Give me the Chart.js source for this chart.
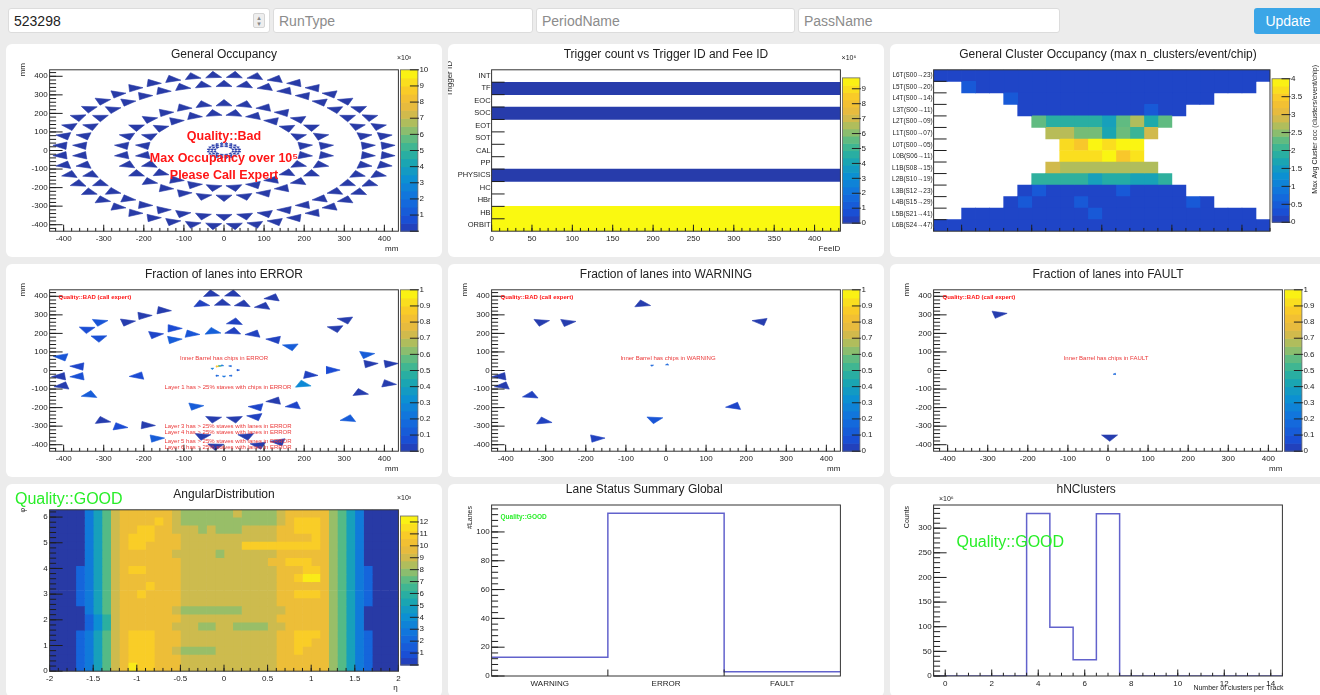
<!DOCTYPE html>
<html lang="en">
<head>
<meta charset="utf-8">
<title>ITS QC overview</title>
<script src="https://cdn.jsdelivr.net/npm/chart.js@4/dist/chart.umd.min.js"></script>
<style>
html, body { margin: 0; padding: 0; }
body { width: 1320px; height: 695px; overflow: hidden; background: #ececec; position: relative; font-family: "Liberation Sans", Arial, sans-serif; }
.field { position: absolute; top: 8px; height: 25px; box-sizing: border-box; border: 1px solid #dcdcdc; border-radius: 3px; background: #fff; font: 14px "Liberation Sans", Arial, sans-serif; color: #222; padding: 0 0 0 5px; outline: none; }
.field::placeholder { color: #8c8c8c; }
.spin { position: absolute; left: 253px; top: 13px; width: 12px; height: 15px; box-sizing: border-box; background: #eeeeee; border: 1px solid #d4d4d4; border-radius: 2px; color: #888; font: 7px "DejaVu Sans", sans-serif; line-height: 6px; text-align: center; padding-top: 1px; }
#update { position: absolute; left: 1254px; top: 8px; width: 68px; height: 26px; border: 0; border-radius: 3px; background: #3ba6e7; color: #fff; font: 14px "Liberation Sans", Arial, sans-serif; padding: 0; }
.pad { position: absolute; width: 436px; height: 213px; background: #fff; border-radius: 6px; overflow: hidden; }
.pad canvas { display: block; }
</style>
</head>
<body>
<input class="field" style="left:8px;width:262px" value="523298">
<div class="spin">▴<br>▾</div>
<input class="field" style="left:273px;width:260px" placeholder="RunType">
<input class="field" style="left:536px;width:259px" placeholder="PeriodName">
<input class="field" style="left:798px;width:262px" placeholder="PassName">
<button id="update">Update</button>

<div class="pad" style="left:6px;top:44px"><canvas id="occupancy" width="436" height="213"></canvas></div>
<div class="pad" style="left:448px;top:44px"><canvas id="trigger" width="436" height="213"></canvas></div>
<div class="pad" style="left:890px;top:44px"><canvas id="clusterOcc" width="436" height="213"></canvas></div>
<div class="pad" style="left:6px;top:264px"><canvas id="laneError" width="436" height="213"></canvas></div>
<div class="pad" style="left:448px;top:264px"><canvas id="laneWarning" width="436" height="213"></canvas></div>
<div class="pad" style="left:890px;top:264px"><canvas id="laneFault" width="436" height="213"></canvas></div>
<div class="pad" style="left:6px;top:484px"><canvas id="angular" width="436" height="213"></canvas></div>
<div class="pad" style="left:448px;top:484px"><canvas id="laneSummary" width="436" height="213"></canvas></div>
<div class="pad" style="left:890px;top:484px"><canvas id="nClusters" width="436" height="213"></canvas></div>

<script>
// ---------------- data ----------------

// ITS barrel layers L0..L6: radius (mm), staves per layer, phi of first stave (deg)
const layerRadius = [23, 31, 39, 200, 252, 356, 405];
const layerStaves = [12, 16, 20, 24, 30, 42, 48];
const layerPhi0 = [15, 11.25, 9, 7.5, 6, 4.29, 3.75];
// General Occupancy per layer (x10^3)
const layerOccupancy = [0.05, 0.05, 0.05, 0.02, 0.02, 0.02, 0.02];

// Fraction of lanes into ERROR: stave centres (mm) and fraction
const errorX = [-32, 22, 122, -57, -4, 47, 98, -154, -202, -243, -311, 304, 27, 279, -342, -127, -173, -83, -29, 23,
  75, -312, -127, 127, 167, -404, 354, -362, 362, 412, 267, -408, -362, -214, 212, 196, -402, 408, -335, 339,
  -73, 83, 127, 175, -27, 27, 79, -304, -262, -194, 311, -171, -54, 56, 137, -21, 87];
const errorY = [412, 412, 392, 358, 363, 358, 346, 324, 295, 261, 261, 273, 261, 227, 222, 227, 193, 197, 210, 210,
  197, 175, 166, 166, 129, 73, 86, 22, 36, 36, 2, -32, -32, -29, -24, -75, -83, -71, -131, -120,
  -193, -197, -164, -190, -261, -261, -249, -270, -303, -295, -261, -366, -354, -354, -385, -408, -402];
const errorFrac = [0.01, 0.01, 0.01, 0.03, 0.01, 0.01, 0.01, 0.01, 0.01, 0.01, 0.1, 0.01, 0.03, 0.01, 0.07, 0.06, 0.04, 0.1, 0.14, 0.03,
  0.03, 0.08, 0.13, 0.03, 0.13, 0.1, 0.13, 0.04, 0.01, 0.01, 0.06, 0.01, 0.08, 0.06, 0.03, 0.3, 0.01, 0.01, 0.13, 0.01,
  0.13, 0.04, 0.01, 0.04, 0.01, 0.01, 0.03, 0.01, 0.06, 0.01, 0.13, 0.13, 0.01, 0.01, 0.01, 0.01, 0.01];
const errorInnerX = [-17, -11, -29, -5, 16, 35, -17, 0, 17];
const errorInnerY = [22, 24, 10, 27, 24, 2, -28, -32, -28];
const errorInnerFrac = [0.85, 0.5, 0.25, 0.2, 0.15, 0.1, 0.15, 0.2, 0.15];

// Fraction of lanes into WARNING
const warningX = [-60, -312, -247, 237, -412, -406, -337, 171, -29, -306, -175];
const warningY = [358, 261, 259, 264, -32, -83, -134, -193, -264, -273, -366];
const warningFrac = [0.01, 0.01, 0.01, 0.01, 0.01, 0.01, 0.03, 0.04, 0.1, 0.03, 0.03];
const warningInnerX = [-35, 3];
const warningInnerY = [27, 32];
const warningInnerFrac = [0.15, 0.15];

// Fraction of lanes into FAULT
const faultX = [-274, 4];
const faultY = [303, -359];
const faultFrac = [0.01, 0.01];
const faultInnerX = [17];
const faultInnerY = [-19];
const faultInnerFrac = [0.15];

// Trigger count vs Trigger ID and Fee ID (x10^6, same for every FEE)
const triggerIds = ['INT', 'TF', 'EOC', 'SOC', 'EOT', 'SOT', 'CAL', 'PP', 'PHYSICS', 'HC', 'HBr', 'HB', 'ORBIT'];
const triggerCounts = [0, 0.06, 0, 0.06, 0, 0, 0, 0, 0.06, 0, 0, 9.7, 9.7];
const feeIdMax = 432;

// General Cluster Occupancy, 24 stave columns per half layer
const clusterRowLabels = ['L6T(S00→23)', 'L5T(S00→20)', 'L4T(S00→14)', 'L3T(S00→11)', 'L2T(S00→09)', 'L1T(S00→07)', 'L0T(S00→05)',
  'L0B(S06→11)', 'L1B(S08→15)', 'L2B(S10→19)', 'L3B(S12→23)', 'L4B(S15→29)', 'L5B(S21→41)', 'L6B(S24→47)'];
const N = null;
const clusterRows = [
  [0.15, 0.15, 0.15, 0.15, 0.15, 0.15, 0.15, 0.15, 0.15, 0.15, 0.15, 0.15, 0.15, 0.15, 0.15, 0.15, 0.15, 0.15, 0.15, 0.15, 0.15, 0.15, 0.15, 0.15],
  [N, N, 0.45, 0.15, 0.15, 0.15, 0.15, 0.15, 0.15, 0.15, 0.15, 0.15, 0.15, 0.15, 0.15, 0.15, 0.15, 0.15, 0.15, 0.15, 0.15, 0.15, 0.15, N],
  [N, N, N, N, N, 0.45, 0.15, 0.15, 0.15, 0.15, 0.15, 0.15, 0.15, 0.15, 0.15, 0.15, 0.15, 0.15, 0.15, 0.15, N, N, N, N],
  [N, N, N, N, N, N, 0.15, 0.15, 0.15, 0.15, 0.15, 0.15, 0.15, 0.15, 0.15, 0.45, 0.15, 0.15, N, N, N, N, N, N],
  [N, N, N, N, N, N, N, 2.3, 1.9, 1.9, 1.9, 1.9, 1.6, 2.3, 2.7, 1.8, 2.3, N, N, N, N, N, N, N],
  [N, N, N, N, N, N, N, N, 2.75, 2.75, 2.4, 2.4, 1.7, 2.35, 2.05, 2.9, N, N, N, N, N, N, N, N],
  [N, N, N, N, N, N, N, N, N, 3.65, 3.45, 3.95, 3.7, 3.95, 3.95, N, N, N, N, N, N, N, N, N],
  [N, N, N, N, N, N, N, N, N, 3.7, 3.7, 3.7, 3.95, 3.45, 3.75, N, N, N, N, N, N, N, N, N],
  [N, N, N, N, N, N, N, N, 2.9, 2.7, 2.7, 2.7, 2.7, 2.7, 2.7, 2.7, N, N, N, N, N, N, N, N],
  [N, N, N, N, N, N, N, 1.95, 1.95, 1.95, 1.95, 1.6, 1.85, 1.85, 1.65, 1.65, 1.95, N, N, N, N, N, N, N],
  [N, N, N, N, N, N, 0.15, 0.45, 0.15, 0.15, 0.15, 0.15, 0.15, 0.45, 0.15, 0.15, 0.15, 0.15, N, N, N, N, N, N],
  [N, N, N, N, N, 0.15, 0.45, 0.15, 0.15, 0.15, 0.45, 0.15, 0.15, 0.15, 0.15, 0.15, 0.15, 0.15, 0.45, 0.15, N, N, N, N],
  [N, N, 0.15, 0.15, 0.15, 0.15, 0.15, 0.15, 0.15, 0.15, 0.15, 0.45, 0.15, 0.15, 0.15, 0.15, 0.15, 0.15, 0.15, 0.15, 0.15, 0.15, 0.15, N],
  [0.15, 0.15, 0.15, 0.15, 0.15, 0.15, 0.15, 0.15, 0.15, 0.15, 0.15, 0.15, 0.15, 0.15, 0.15, 0.15, 0.15, 0.15, 0.15, 0.15, 0.15, 0.15, 0.15, 0.15]
];
const clusterMajorTicks = [2, 7, 12, 17, 22];

// AngularDistribution: rows from phi = 2pi (top) down to 0, 40 eta bins from -2 to 2,
// each character is the bin content in units of 10^3 (hex)
const angularRows = [
  '00003579a aaaa a98 8888898888 9a aaaa 87530000',
  '00003579a aaab a98 8888888888 9a bbba 87530000',
  '00003579a abba a99 9898889999 aa bbba 87530000',
  '00003579a bbba aa9 9999999999 aa aaba 87530000',
  '00003579a bbaa aa9 999999bbbb bb bbba 87530000',
  '00003579a aaaa a99 9998999999 aa aaaa 87530000',
  '00003579a aaaa aa9 999999999a ab bbaa 87530000',
  '00023579a bbaa aa9 9999999999 aa abba 87532000',
  '00023579a aaaa aa9 9999999999 aa bcca 87532000',
  '00023579a aaba aa9 9999999999 aa aaaa 87532000',
  '00023579a abaa aa9 9999999999 aa bbba 87532000',
  '00023579a aaaa aa9 9999999999 aa aaaa 87532000',
  '00003579a aaaa a98 8888889999 9a aaaa 87530000',
  '00002469a aaaa aa9 9999999999 aa aaaa 87530000',
  '00002469a aaaa a99 9889988889 9a aaaa 87530000',
  '00023579a bbba aa9 9999999999 aa bbba 87532000',
  '00023579a bbba aa9 9999999999 aa bbaa 87532000',
  '00023579a bbba a98 8889999999 aa baaa 87532000',
  '00023579a bbba aa9 9999999999 aa aaaa 87532000',
  '00023579a cbba aa9 9999999999 aa aaaa 87532000'
];
const etaMin = -2, etaBin = 0.1;

// Lane Status Summary Global
const laneStatus = ['WARNING', 'ERROR', 'FAULT'];
const laneCounts = [13, 113, 3];

// hNClusters: bins 0..14 (x10^6)
const nClusterBins = [0, 1, 2, 3, 4, 5, 6, 7, 8, 9, 10, 11, 12, 13, 14];
const nClusterCounts = [0, 0, 0, 0, 330, 99, 33, 329, 0, 0, 0, 0, 0, 0, 0];

// ---------------- style ----------------
Chart.defaults.font.family = "'Liberation Sans', Arial, Helvetica, sans-serif";
Chart.defaults.color = '#222';

const PAD_W = 436, PAD_H = 213;
const FRAME_L = 43.6, FRAME_R = 392.4, FRAME_T = 21, FRAME_B = 192;
const RED = 'rgb(255,22,22)';
const SOFT_RED = 'rgb(235,55,55)';
const GREEN = 'rgb(40,238,40)';
const HIST = 'rgb(98,98,204)';
const TICK_FONT = {size: 8};

// ROOT kBird-like palette
const birdStops = [
  [0.00, 40, 58, 165], [0.05, 28, 72, 210], [0.20, 18, 112, 222], [0.33, 12, 145, 210],
  [0.45, 30, 170, 170], [0.55, 75, 186, 138], [0.65, 160, 190, 100], [0.75, 225, 185, 68],
  [0.85, 248, 194, 45], [0.94, 250, 228, 28], [1.00, 250, 250, 15]
];
function birdColor(f) {
  f = Math.min(1, Math.max(0, f));
  for (let i = 1; i < birdStops.length; i++) {
    if (f <= birdStops[i][0]) {
      const p = birdStops[i - 1], q = birdStops[i];
      const k = (f - p[0]) / (q[0] - p[0]);
      return 'rgb(' + [1, 2, 3].map(c => Math.round(p[c] + k * (q[c] - p[c]))).join(',') + ')';
    }
  }
  return 'rgb(250,250,15)';
}

// ---------------- helpers ----------------
function tickRange(min, max, step) {
  const out = [];
  const k0 = Math.ceil(min / step - 1e-6);
  for (let k = k0; k * step <= max + 1e-9; k++) out.push(k * step);
  return out;
}

function tickPixels(scale, spec) {
  const out = [];
  if (spec.boundaries) {
    const n = scale.getLabels().length;
    for (let i = 0; i < n - 1; i++) {
      out.push({p: (scale.getPixelForValue(i) + scale.getPixelForValue(i + 1)) / 2, major: true});
    }
    return out;
  }
  (spec.values || tickRange(scale.min, scale.max, spec.step)).forEach(v => out.push({p: scale.getPixelForValue(v), major: true}));
  if (spec.minor) tickRange(scale.min, scale.max, spec.minor).forEach(v => out.push({p: scale.getPixelForValue(v), major: false}));
  return out;
}

function drawText(ctx, t) {
  ctx.save();
  ctx.font = t.font;
  ctx.fillStyle = t.color || '#222';
  ctx.textAlign = t.align || 'center';
  ctx.textBaseline = 'middle';
  ctx.translate(t.x, t.y);
  if (t.rot) ctx.rotate(t.rot * Math.PI / 180);
  ctx.fillText(t.text, 0, 0);
  ctx.restore();
}

function drawColorbar(chart) {
  const ctx = chart.ctx, s = chart.scales.cb;
  const x0 = s.left + 2, x1 = s.left + 19.5;
  const yBot = s.getPixelForValue(s.min), yTop = s.getPixelForValue(s.max);
  const n = 20;
  for (let i = 0; i < n; i++) {
    const ya = yBot + (yTop - yBot) * i / n, yb = yBot + (yTop - yBot) * (i + 1) / n;
    ctx.fillStyle = birdColor((i + 0.5) / n);
    ctx.fillRect(x0, yb, x1 - x0, ya - yb + 0.6);
  }
  ctx.strokeStyle = '#666';
  ctx.lineWidth = 0.8;
  ctx.strokeRect(x0, yTop, x1 - x0, yBot - yTop);
  ctx.strokeStyle = '#222';
  ctx.lineWidth = 1;
  ctx.beginPath();
  s.ticks.forEach(t => {
    const y = s.getPixelForValue(t.value);
    ctx.moveTo(x1 - 8, y);
    ctx.lineTo(x1 + 1, y);
  });
  ctx.stroke();
}

// ROOT style pad: inner ticks, frame, palette and free texts
function rootPad(cfg) {
  return {
    id: 'rootPad',
    afterDatasetsDraw(chart) {
      const ctx = chart.ctx, a = chart.chartArea;
      ctx.save();
      if (cfg.colorbar) drawColorbar(chart);
      ctx.strokeStyle = '#1e1e1e';
      ctx.lineWidth = 1;
      ctx.beginPath();
      if (cfg.xTicks) {
        tickPixels(chart.scales[cfg.xTicks.axis], cfg.xTicks).forEach(t => {
          const len = t.major ? cfg.xTicks.len : cfg.xTicks.len / 2;
          ctx.moveTo(t.p, a.bottom);
          ctx.lineTo(t.p, a.bottom - len);
        });
      }
      if (cfg.yTicks) {
        tickPixels(chart.scales[cfg.yTicks.axis], cfg.yTicks).forEach(t => {
          const len = t.major ? cfg.yTicks.len : cfg.yTicks.len / 2;
          ctx.moveTo(a.left, t.p);
          ctx.lineTo(a.left + len, t.p);
        });
      }
      ctx.stroke();
      ctx.strokeStyle = '#333';
      ctx.strokeRect(a.left, a.top, a.right - a.left, a.bottom - a.top);
      (cfg.texts || []).forEach(t => drawText(ctx, t));
      ctx.restore();
    }
  };
}

function linAxis(position, min, max, step, size, extraTicks) {
  return {
    type: 'linear', position, min, max, offset: false, display: true,
    grid: {display: false, drawTicks: false}, border: {display: false},
    ticks: Object.assign({stepSize: step, font: TICK_FONT, color: '#222', padding: position === 'left' ? 2 : 3,
      maxRotation: 0, autoSkip: false, includeBounds: false, callback: v => String(v)}, extraTicks || {}),
    afterFit: s => { if (s.isHorizontal()) s.height = size; else s.width = size; }
  };
}

function cbAxis(max, step, width, hideZero) {
  return {
    type: 'linear', position: 'right', min: 0, max, display: true,
    grid: {display: false, drawTicks: false}, border: {display: false},
    ticks: {stepSize: step, font: TICK_FONT, color: '#222', padding: 21, autoSkip: false, includeBounds: false,
      callback: v => (hideZero && v === 0) ? '' : String(v)},
    afterFit: s => { s.width = width; }
  };
}

function padOptions(title, scales, rightPadding, extra) {
  return Object.assign({
    responsive: false, animation: false, devicePixelRatio: 1,
    layout: {padding: {left: 0, right: rightPadding, top: 0, bottom: 0}},
    elements: {point: {radius: 0}, line: {tension: 0}},
    plugins: {
      legend: {display: false}, tooltip: {enabled: false},
      title: {display: true, text: title, color: '#222', font: {size: 12, weight: 'normal', lineHeight: 1},
        padding: {top: 0, bottom: FRAME_T - 12}}
    },
    scales
  }, extra || {});
}

// triangle marker for one stave, apex pointing outwards, size in mm
function staveTriangle(x, y, base, height) {
  const r = Math.hypot(x, y) || 1;
  const ux = x / r, uy = y / r, tx = -uy, ty = ux;
  const apex = {x: x + ux * height * 2 / 3, y: y + uy * height * 2 / 3};
  return [
    apex,
    {x: x - ux * height / 3 + tx * base / 2, y: y - uy * height / 3 + ty * base / 2},
    {x: x - ux * height / 3 - tx * base / 2, y: y - uy * height / 3 - ty * base / 2},
    apex
  ];
}

function staveDataset(x, y, colour, inner) {
  return {
    data: inner ? staveTriangle(x, y, 8, 6) : staveTriangle(x, y, 40, 34),
    fill: 'shape', backgroundColor: colour, borderColor: colour, borderWidth: 0.6, pointRadius: 0
  };
}

function staveMap(id, title, datasets, texts) {
  new Chart(document.getElementById(id), {
    type: 'line',
    data: {datasets},
    options: padOptions(title, {
      x: linAxis('bottom', -435, 435, 100, PAD_H - FRAME_B),
      y: linAxis('left', -435, 435, 100, FRAME_L),
      cb: cbAxis(1, 0.1, PAD_W - FRAME_R, false)
    }, 0),
    plugins: [rootPad({
      colorbar: true,
      xTicks: {axis: 'x', step: 100, minor: 20, len: 6.5},
      yTicks: {axis: 'y', step: 100, minor: 20, len: 13},
      texts: [
        {text: 'mm', x: 16.5, y: FRAME_T - 2, font: '8px "Liberation Sans"', rot: -90, align: 'right'},
        {text: 'mm', x: FRAME_R, y: 205, font: '8px "Liberation Sans"', align: 'right'},
        {text: 'Quality::BAD (call expert)', x: 52.5, y: 33, font: 'bold 6px "Liberation Sans"', color: RED, align: 'left'}
      ].concat(texts)
    })]
  });
}

function fractionDatasets(xs, ys, fr, ixs, iys, ifr) {
  return xs.map((x, i) => staveDataset(x, ys[i], birdColor(fr[i]), false))
    .concat(ixs.map((x, i) => staveDataset(x, iys[i], birdColor(ifr[i]), true)));
}

// ---------------- General Occupancy ----------------
const occDatasets = [];
layerRadius.forEach((r, l) => {
  for (let k = 0; k < layerStaves[l]; k++) {
    const phi = (layerPhi0[l] + k * 360 / layerStaves[l]) * Math.PI / 180;
    occDatasets.push(staveDataset(r * Math.cos(phi), r * Math.sin(phi), birdColor(layerOccupancy[l] / 10), l < 3));
  }
});
new Chart(document.getElementById('occupancy'), {
  type: 'line',
  data: {datasets: occDatasets},
  options: padOptions('General Occupancy', {
    x: linAxis('bottom', -435, 435, 100, PAD_H - FRAME_B),
    y: linAxis('left', -435, 435, 100, FRAME_L),
    cb: cbAxis(10, 1, PAD_W - FRAME_R, true)
  }, 0),
  plugins: [rootPad({
    colorbar: true,
    xTicks: {axis: 'x', step: 100, minor: 20, len: 6.5},
    yTicks: {axis: 'y', step: 100, minor: 20, len: 13},
    texts: [
      {text: 'mm', x: 16.5, y: FRAME_T - 2, font: '8px "Liberation Sans"', rot: -90, align: 'right'},
      {text: 'mm', x: FRAME_R, y: 205, font: '8px "Liberation Sans"', align: 'right'},
      {text: '×10³', x: 398, y: 14, font: '7px "Liberation Sans"'},
      {text: 'Quality::Bad', x: 218, y: 93, font: 'bold 12.5px "Liberation Sans"', color: RED},
      {text: 'Max Occupancy over 10⁵', x: 218, y: 115, font: 'bold 12.5px "Liberation Sans"', color: RED},
      {text: 'Please Call Expert', x: 218, y: 132, font: 'bold 12.5px "Liberation Sans"', color: RED}
    ]
  })]
});

// ---------------- Trigger count ----------------
new Chart(document.getElementById('trigger'), {
  type: 'bar',
  data: {
    labels: triggerIds,
    datasets: [{
      data: triggerCounts.map(v => v > 0 ? [0, feeIdMax] : null),
      backgroundColor: ctx => birdColor(triggerCounts[ctx.dataIndex] / 9.73),
      barPercentage: 1, categoryPercentage: 1, borderWidth: 0
    }]
  },
  options: padOptions('Trigger count vs Trigger ID and Fee ID', {
    x: linAxis('bottom', 0, feeIdMax, 50, PAD_H - FRAME_B),
    y: {type: 'category', position: 'left', display: true, grid: {display: false, drawTicks: false}, border: {display: false},
      ticks: {font: {size: 7.5}, color: '#222', padding: 1, autoSkip: false}, afterFit: s => { s.width = FRAME_L; }},
    cb: cbAxis(9.73, 1, PAD_W - FRAME_R, false)
  }, 0, {indexAxis: 'y'}),
  plugins: [rootPad({
    colorbar: true,
    xTicks: {axis: 'x', step: 50, minor: 10, len: 6.5},
    yTicks: {axis: 'y', boundaries: true, len: 13},
    texts: [
      {text: 'Trigger ID', x: 2, y: FRAME_T - 4, font: '8px "Liberation Sans"', rot: -90, align: 'right'},
      {text: 'FeeID', x: FRAME_R, y: 205, font: '8px "Liberation Sans"', align: 'right'},
      {text: '×10⁶', x: 401, y: 14, font: '7px "Liberation Sans"'}
    ]
  })]
});

// ---------------- General Cluster Occupancy ----------------
const CLUSTER_R = 380;
new Chart(document.getElementById('clusterOcc'), {
  type: 'bar',
  data: {
    labels: clusterRowLabels,
    datasets: clusterRows[0].map((_, j) => ({
      data: clusterRows.map(row => row[j] == null ? null : [j, j + 1]),
      backgroundColor: ctx => birdColor((clusterRows[ctx.dataIndex][j] || 0) / 4),
      grouped: false, barPercentage: 1, categoryPercentage: 1, borderWidth: 0
    }))
  },
  options: padOptions('General Cluster Occupancy (max n_clusters/event/chip)', {
    x: linAxis('bottom', 0, 24, 1, PAD_H - FRAME_B, {display: false}),
    y: {type: 'category', position: 'left', display: true, grid: {display: false, drawTicks: false}, border: {display: false},
      ticks: {font: {size: 6.4}, color: '#222', padding: 1, autoSkip: false}, afterFit: s => { s.width = FRAME_L; }},
    cb: cbAxis(4, 0.5, PAD_W - CLUSTER_R, false)
  }, 0, {indexAxis: 'y'}),
  plugins: [rootPad({
    colorbar: true,
    xTicks: {axis: 'x', values: clusterMajorTicks, minor: 1, len: 6.5},
    yTicks: {axis: 'y', boundaries: true, len: 13},
    texts: [
      {text: 'Max Avg Cluster occ (clusters/event/chip)', x: 425, y: FRAME_T, font: '7px "Liberation Sans"', rot: -90, align: 'right'}
    ]
  })]
});

// ---------------- Fraction of lanes maps ----------------
staveMap('laneError', 'Fraction of lanes into ERROR',
  fractionDatasets(errorX, errorY, errorFrac, errorInnerX, errorInnerY, errorInnerFrac), [
    {text: 'Inner Barrel has chips in ERROR', x: 218, y: 94, font: '6px "Liberation Sans"', color: SOFT_RED},
    {text: 'Layer 1 has > 25% staves with chips in ERROR', x: 222, y: 123, font: '6px "Liberation Sans"', color: SOFT_RED},
    {text: 'Layer 3 has > 25% staves with lanes in ERROR', x: 222, y: 162, font: '6px "Liberation Sans"', color: SOFT_RED},
    {text: 'Layer 4 has > 25% staves with lanes in ERROR', x: 222, y: 168, font: '6px "Liberation Sans"', color: SOFT_RED},
    {text: 'Layer 5 has > 25% staves with lanes in ERROR', x: 222, y: 177, font: '6px "Liberation Sans"', color: SOFT_RED},
    {text: 'Layer 6 has > 25% staves with lanes in ERROR', x: 222, y: 183, font: '6px "Liberation Sans"', color: SOFT_RED}
  ]);
staveMap('laneWarning', 'Fraction of lanes into WARNING',
  fractionDatasets(warningX, warningY, warningFrac, warningInnerX, warningInnerY, warningInnerFrac), [
    {text: 'Inner Barrel has chips in WARNING', x: 220, y: 94, font: '6px "Liberation Sans"', color: SOFT_RED}
  ]);
staveMap('laneFault', 'Fraction of lanes into FAULT',
  fractionDatasets(faultX, faultY, faultFrac, faultInnerX, faultInnerY, faultInnerFrac), [
    {text: 'Inner Barrel has chips in FAULT', x: 216, y: 94, font: '6px "Liberation Sans"', color: SOFT_RED}
  ]);

// ---------------- AngularDistribution ----------------
const angularCells = angularRows.map(r => r.replace(/ /g, '').split('').map(c => parseInt(c, 16)));
new Chart(document.getElementById('angular'), {
  type: 'bar',
  data: {
    labels: angularCells.map((_, i) => 'phi' + i),
    datasets: angularCells[0].map((_, j) => ({
      yAxisID: 'yc', xAxisID: 'x',
      data: angularCells.map(() => [etaMin + j * etaBin, etaMin + (j + 1) * etaBin]),
      backgroundColor: ctx => birdColor(angularCells[ctx.dataIndex][j] / 12.5),
      grouped: false, barPercentage: 1, categoryPercentage: 1, borderWidth: 0
    }))
  },
  options: padOptions('AngularDistribution', {
    x: linAxis('bottom', -2, 2, 0.5, PAD_H - FRAME_B),
    y: linAxis('left', 0, 2 * Math.PI, 1, FRAME_L),
    yc: {type: 'category', axis: 'y', position: 'left', display: false, offset: true},
    cb: cbAxis(12.5, 1, PAD_W - FRAME_R, true)
  }, 0, {indexAxis: 'y'}),
  plugins: [rootPad({
    colorbar: true,
    xTicks: {axis: 'x', step: 0.5, minor: 0.1, len: 6.5},
    yTicks: {axis: 'y', step: 1, minor: 0.2, len: 13},
    texts: [
      {text: 'φ', x: 17, y: FRAME_T + 3, font: '7px "Liberation Sans"', rot: -90, align: 'right'},
      {text: 'η', x: FRAME_R - 3, y: 204, font: '8px "Liberation Sans"', align: 'center'},
      {text: '×10³', x: 398, y: 14, font: '7px "Liberation Sans"'},
      {text: 'Quality::GOOD', x: 9, y: 16, font: '16px "Liberation Sans"', color: GREEN, align: 'left'}
    ]
  })]
});

// ---------------- Lane Status Summary Global ----------------
const laneSteps = laneCounts.map((v, i) => ({x: i, y: v})).concat([{x: laneCounts.length, y: laneCounts[laneCounts.length - 1]}]);
new Chart(document.getElementById('laneSummary'), {
  type: 'line',
  data: {datasets: [{data: laneSteps, stepped: 'before', borderColor: HIST, borderWidth: 1.5, pointRadius: 0, fill: false}]},
  options: padOptions('Lane Status Summary Global', {
    x: Object.assign(linAxis('bottom', 0, laneStatus.length, 1, PAD_H - FRAME_B, {callback: (v, i) => laneStatus[i]}), {
      afterBuildTicks: s => { s.ticks = laneStatus.map((_, i) => ({value: i + 0.5})); }
    }),
    y: linAxis('left', 0, 118.7, 20, FRAME_L)
  }, PAD_W - FRAME_R),
  plugins: [rootPad({
    xTicks: {axis: 'x', values: [1, 2], len: 6.5},
    yTicks: {axis: 'y', step: 20, minor: 4, len: 13},
    texts: [
      {text: '#Lanes', x: 22, y: FRAME_T + 1, font: '7px "Liberation Sans"', rot: -90, align: 'right'},
      {text: 'Quality::GOOD', x: 52.5, y: 33, font: 'bold 6.5px "Liberation Sans"', color: GREEN, align: 'left'}
    ]
  })]
});

// ---------------- hNClusters ----------------
const nClusterSteps = nClusterBins.map((b, i) => ({x: b - 0.5, y: nClusterCounts[i]}))
  .concat([{x: nClusterBins[nClusterBins.length - 1] + 0.5, y: nClusterCounts[nClusterCounts.length - 1]}]);
new Chart(document.getElementById('nClusters'), {
  type: 'line',
  data: {datasets: [{data: nClusterSteps, stepped: 'before', borderColor: HIST, borderWidth: 1.5, pointRadius: 0, fill: false}]},
  options: padOptions('hNClusters', {
    x: linAxis('bottom', -0.5, 14.5, 2, PAD_H - FRAME_B),
    y: linAxis('left', 0, 347, 50, FRAME_L)
  }, PAD_W - FRAME_R),
  plugins: [rootPad({
    xTicks: {axis: 'x', step: 2, minor: 0.5, len: 6.5},
    yTicks: {axis: 'y', step: 50, minor: 10, len: 13},
    texts: [
      {text: 'Counts', x: 17, y: FRAME_T + 1, font: '7px "Liberation Sans"', rot: -90, align: 'right'},
      {text: '×10⁶', x: 49, y: 15, font: '7px "Liberation Sans"', align: 'left'},
      {text: 'Number of clusters per Track', x: FRAME_R + 1, y: 204, font: '7px "Liberation Sans"', align: 'right'},
      {text: 'Quality::GOOD', x: 66.5, y: 58.5, font: '16px "Liberation Sans"', color: GREEN, align: 'left'}
    ]
  })]
});
</script>
</body>
</html>
